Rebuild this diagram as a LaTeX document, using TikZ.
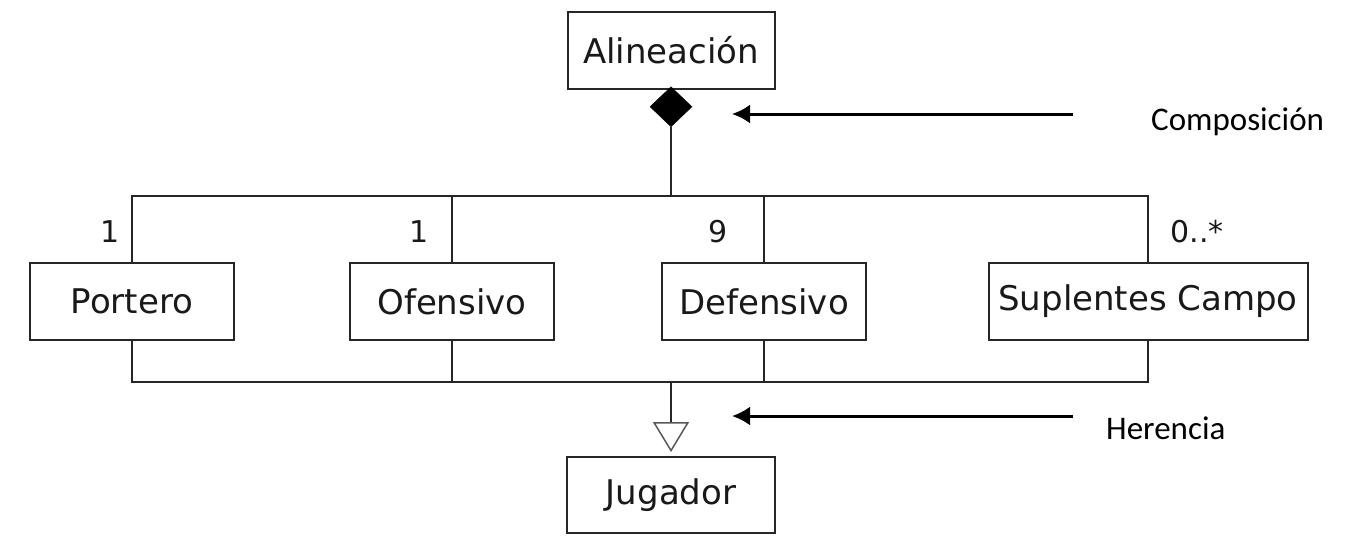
\documentclass[tikz,border=0pt]{standalone}
\usepackage{fontspec}
\setmainfont{DejaVu Sans}
\newfontfamily\lblfont{Carlito}
\usetikzlibrary{arrows.meta,shapes.geometric}
\tikzset{
  cls/.style={draw=black!85, line width=2pt, fill=white, minimum height=77pt,
    inner sep=0pt, font=\fontsize{34}{38}\selectfont, text=black!90},
  conn/.style={draw=black!85, line width=2pt},
  mult/.style={font=\fontsize{30}{34}\selectfont, text=black!90, inner sep=0pt},
  note/.style={font=\lblfont\fontsize{33}{38}\selectfont, text=black, inner sep=0pt, anchor=west},
  pointer/.style={line width=3pt, -{Latex[length=18pt,width=19pt]}}
}
\begin{document}
\begin{tikzpicture}[x=1pt,y=-1pt]
\useasboundingbox (0,0) rectangle (1349,546);
% classes
\node[cls, minimum width=207pt] (A) at (671,50) {Alineación};
\node[cls, minimum width=204pt] (P) at (132,301.5) {Portero};
\node[cls, minimum width=204pt] (O) at (452,301.5) {Ofensivo};
\node[cls, minimum width=204pt] (D) at (764,301.5) {Defensivo};
\node[cls, minimum width=319pt] (S) at (1148,301.5) {Suplentes Campo};
\node[cls, minimum width=208pt, minimum height=76pt] (J) at (671,495) {Jugador};
% composition diamond
\node[diamond, fill=black, draw=black, line width=0.5pt, inner sep=0pt,
  minimum width=42pt, minimum height=40pt, anchor=north] (dia) at ([yshift=3pt]A.south) {};
\coordinate (busT) at (0,196);
\coordinate (busB) at (0,381.5);
\draw[conn] (dia.south) -- (dia.south |- busT);
\draw[conn] (P.north) -- (P.north |- busT) -- (S.north |- busT) -- (S.north);
\draw[conn] (O.north) -- (O.north |- busT);
\draw[conn] (D.north) -- (D.north |- busT);
% inheritance
\draw[conn] (P.south) -- (P.south |- busB) -- (S.south |- busB) -- (S.south);
\draw[conn] (O.south) -- (O.south |- busB);
\draw[conn] (D.south) -- (D.south |- busB);
\draw[conn, shorten >=4pt, -{Triangle[open, length=30pt, width=36pt, line width=1.5pt, color=black!65]}]
  (J.north |- busB) -- (J.north);
% multiplicities
\node[mult] (m1) at (110,232) {1};
\node[mult] (m2) at (419,232) {1};
\node[mult] (m3) at (718,232) {9};
\node[mult] (m4) at (1197,232) {0..*};
% annotation arrows
\coordinate (ct) at (1073,114);
\coordinate (ch) at (732,114);
\draw[pointer] (ct) -- (ch);
\node[note] (comp) at (1151,122) {Composición};
\coordinate (ht) at (1073,416);
\coordinate (hh) at (732,416);
\draw[pointer] (ht) -- (hh);
\node[note] (her) at (1106,428) {Herencia};
\end{tikzpicture}
\end{document}
